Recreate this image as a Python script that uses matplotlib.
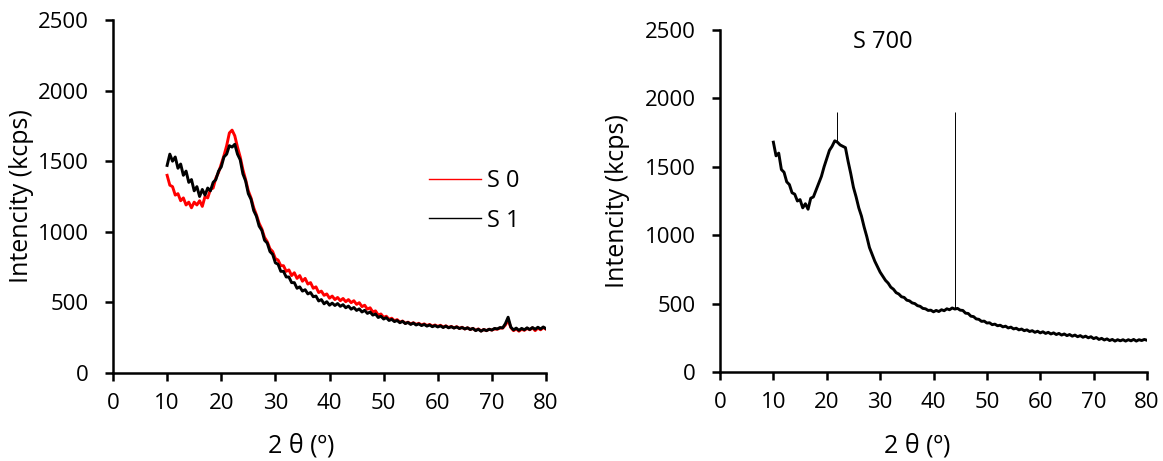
import numpy as np
import matplotlib
matplotlib.use("Agg")
import matplotlib.pyplot as plt

plt.rcParams['font.family'] = ['Open Sans', 'DejaVu Sans']

# 2-theta grid (degrees), 0.5 deg steps from 10 to 80
two_theta = np.arange(10, 80.5, 0.5)

# intensities (kcps)
s0 = [1400, 1330, 1320, 1260, 1270, 1220, 1240, 1190, 1210, 1170,
      1210, 1190, 1220, 1180, 1250, 1240, 1300, 1310, 1380, 1420,
      1480, 1540, 1610, 1700, 1720, 1680, 1600, 1530, 1440, 1370,
      1290, 1240, 1170, 1120, 1060, 1020, 960, 930, 880, 860,
      810, 800, 760, 760, 720, 730, 690, 710, 670, 690,
      650, 670, 630, 640, 600, 610, 570, 580, 550, 560,
      530, 545, 520, 535, 512, 528, 505, 520, 498, 512,
      486, 498, 470, 480, 452, 462, 432, 440, 410, 418,
      394, 402, 380, 388, 370, 378, 360, 368, 352, 360,
      348, 356, 344, 352, 340, 348, 336, 344, 332, 340,
      330, 338, 326, 334, 322, 330, 320, 328, 316, 324,
      312, 320, 308, 316, 302, 312, 298, 308, 300, 310,
      304, 312, 310, 318, 318, 340, 375, 322, 300, 312,
      296, 310, 302, 316, 306, 320, 300, 318, 306, 322,
      310]

s1 = [1470, 1550, 1500, 1530, 1450, 1480, 1400, 1430, 1350, 1370,
      1290, 1320, 1250, 1300, 1260, 1310, 1290, 1350, 1370, 1430,
      1460, 1530, 1550, 1610, 1600, 1620, 1550, 1510, 1410, 1360,
      1270, 1230, 1150, 1110, 1040, 1010, 940, 920, 860, 840,
      780, 770, 720, 720, 680, 680, 640, 640, 600, 610,
      580, 590, 560, 570, 540, 545, 510, 520, 490, 505,
      480, 495, 478, 492, 472, 484, 462, 474, 452, 464,
      443, 454, 432, 444, 422, 432, 410, 418, 393, 402,
      382, 392, 372, 380, 364, 372, 356, 366, 350, 358,
      344, 354, 340, 348, 336, 344, 332, 340, 328, 336,
      326, 334, 322, 332, 320, 328, 318, 326, 315, 322,
      312, 320, 308, 316, 300, 310, 296, 308, 300, 310,
      304, 316, 312, 322, 320, 350, 395, 325, 305, 318,
      302, 316, 306, 320, 308, 322, 310, 324, 312, 326,
      314]

s700 = [1680, 1580, 1600, 1480, 1460, 1390, 1370, 1310, 1300, 1250,
        1260, 1200, 1230, 1190, 1270, 1280, 1330, 1380, 1430, 1500,
        1560, 1620, 1650, 1690, 1680, 1660, 1650, 1640, 1540, 1450,
        1350, 1280, 1200, 1140, 1060, 990, 910, 860, 810, 770,
        730, 700, 670, 650, 620, 605, 580, 570, 550, 545,
        525, 520, 505, 500, 485, 480, 465, 462, 450, 452,
        440, 450, 442, 455, 448, 462, 455, 468, 460, 465,
        452, 450, 430, 428, 408, 405, 388, 385, 370, 372,
        358, 360, 346, 350, 338, 342, 330, 335, 322, 328,
        315, 320, 308, 314, 302, 308, 296, 302, 290, 298,
        286, 294, 282, 290, 278, 286, 274, 282, 270, 278,
        266, 274, 262, 270, 258, 266, 254, 262, 250, 258,
        244, 252, 238, 246, 234, 242, 230, 238, 226, 236,
        228, 236, 226, 236, 228, 238, 226, 236, 230, 238,
        232]

# sharp single-point spikes in S 700
spike_pos = [21.9, 44.1]
spike_base = [1690, 460]
spike_top = [1900, 1900]

TICK_FS = 16
LABEL_FS = 18
LEGEND_FS = 17

fig = plt.figure(figsize=(11.63, 4.61), dpi=100)
ax1 = fig.add_axes([113 / 1163, 1 - 373 / 461, 433 / 1163, 353 / 461])
ax2 = fig.add_axes([720 / 1163, 1 - 372 / 461, 427 / 1163, 342 / 461])


def style_axes(ax):
    ax.set_xlim(0, 80)
    ax.set_ylim(0, 2500)
    ax.set_xticks(range(0, 81, 10))
    ax.set_yticks(range(0, 2501, 500))
    for side in ('top', 'right'):
        ax.spines[side].set_visible(False)
    for side in ('left', 'bottom'):
        ax.spines[side].set_linewidth(1.8)
    ax.tick_params(axis='both', direction='out', length=5.5, width=1.8,
                   labelsize=TICK_FS)
    ax.tick_params(axis='y', pad=12)
    ax.tick_params(axis='x', pad=9)
    ax.set_ylabel("Intencity (kcps)", fontsize=LABEL_FS)
    ax.set_xlabel("2 θ (º)", fontsize=LABEL_FS)


style_axes(ax1)
style_axes(ax2)

# left panel
ax1.plot(two_theta, s0, color='#ff0000', lw=2.1, label='S 0')
ax1.plot(two_theta, s1, color='black', lw=2.1, label='S 1')
leg = ax1.legend(loc='center left', bbox_to_anchor=(0.73, 0.4875),
                 frameon=False, fontsize=LEGEND_FS, handlelength=2.2,
                 handletextpad=0.25, labelspacing=0.66,
                 borderpad=0, borderaxespad=0)
for line in leg.get_lines():
    line.set_linewidth(1.0)
ax1.yaxis.set_label_coords(-0.183, 0.5)
ax1.xaxis.set_label_coords(0.434, -0.172)

# right panel
ax2.plot(two_theta, s700, color='black', lw=2.1)
ax2.vlines(spike_pos, spike_base, spike_top, color='black', lw=0.7)
ax2.text(30.5, 2410, "S 700", fontsize=LEGEND_FS, ha='center', va='center')
ax2.yaxis.set_label_coords(-0.21, 0.5)
ax2.xaxis.set_label_coords(0.461, -0.18)

fig.savefig("out.png", dpi=100)
